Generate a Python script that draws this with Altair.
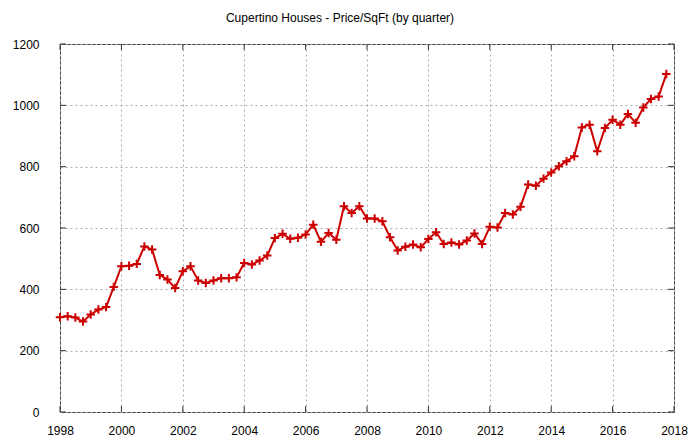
import altair as alt
import pandas as pd

years = list(range(1998, 2018))
quarters = [0.0, 0.25, 0.5, 0.75]
price = [
    309, 312, 308, 295,
    318, 334, 342, 408,
    475, 477, 483, 540,
    530, 447, 432, 404,
    459, 475, 429, 421,
    429, 436, 436, 439,
    486, 481, 494, 510,
    567, 581, 565, 568,
    579, 611, 555, 584,
    562, 671, 649, 671,
    631, 631, 622, 570,
    527, 539, 546, 537,
    564, 586, 548, 553,
    546, 559, 582, 548,
    604, 602, 649, 644,
    669, 742, 738, 761,
    781, 801, 818, 834,
    928, 937, 850, 926,
    953, 937, 972, 943,
    993, 1021, 1029, 1102,
]
x_grid = list(range(1998, 2019))
x_major = list(range(1998, 2019, 2))
y_ticks = list(range(0, 1201, 200))

t = [y + q for y in years for q in quarters]
df = pd.DataFrame({"t": t, "price": price})
W, H = 614, 368
FONT = "Liberation Sans"

xscale = alt.Scale(domain=[1998, 2018], nice=False, zero=False)
yscale = alt.Scale(domain=[0, 1200], nice=False)

xaxis = alt.Axis(values=x_grid, format="d", grid=True, ticks=False, tickSize=0,
                 labelExpr="datum.value % 2 == 0 ? datum.label : ''",
                 labelPadding=13, labelFontSize=12, labelFont=FONT, labelColor="#000",
                 gridDash=[2, 3], gridColor="#aaa", gridWidth=1, domain=False, title=None,
                 labelFlush=False)
yaxis = alt.Axis(values=y_ticks, format="d", grid=True, ticks=False, tickSize=0, labelPadding=21,
                 labelFontSize=12, labelFont=FONT, labelColor="#000",
                 gridDash=[2, 3], gridColor="#aaa", gridWidth=1, domain=False, title=None)

base = alt.Chart(df)
line = base.mark_line(color="#cc0000", strokeWidth=2).encode(
    x=alt.X("t:Q", scale=xscale, axis=xaxis),
    y=alt.Y("price:Q", scale=yscale, axis=yaxis),
)
pts = base.mark_point(shape="M-1,0L1,0M0,-1L0,1", filled=False, color="#cc0000",
                      strokeWidth=2, size=72, opacity=1).encode(
    x=alt.X("t:Q", scale=xscale),
    y=alt.Y("price:Q", scale=yscale),
)

xt = pd.DataFrame({"yr": x_major})
yt = pd.DataFrame({"v": y_ticks})
tick_col = "#333"
xb = alt.Chart(xt).mark_rule(color=tick_col).encode(
    x=alt.X("yr:Q", scale=xscale), y=alt.value(H), y2=alt.value(H - 6))
xtop = alt.Chart(xt).mark_rule(color=tick_col).encode(
    x=alt.X("yr:Q", scale=xscale), y=alt.value(0), y2=alt.value(6))
yl = alt.Chart(yt).mark_rule(color=tick_col).encode(
    y=alt.Y("v:Q", scale=yscale), x=alt.value(0), x2=alt.value(6))
yr = alt.Chart(yt).mark_rule(color=tick_col).encode(
    y=alt.Y("v:Q", scale=yscale), x=alt.value(W), x2=alt.value(W - 6))

chart = alt.layer(xb, xtop, yl, yr, line, pts).properties(
    width=W, height=H,
    autosize=alt.AutoSizeParams(type="none"),
    padding={"left": 52, "top": 36, "right": 17, "bottom": 30},
    title=alt.TitleParams("Cupertino Houses - Price/SqFt (by quarter)", fontSize=12,
                          font=FONT, fontWeight="normal", color="#000",
                          anchor="middle", dx=-27, offset=13),
).configure_view(stroke="#444", strokeWidth=1)

chart.save("out.html", embed_options={"renderer": "svg", "actions": False})
